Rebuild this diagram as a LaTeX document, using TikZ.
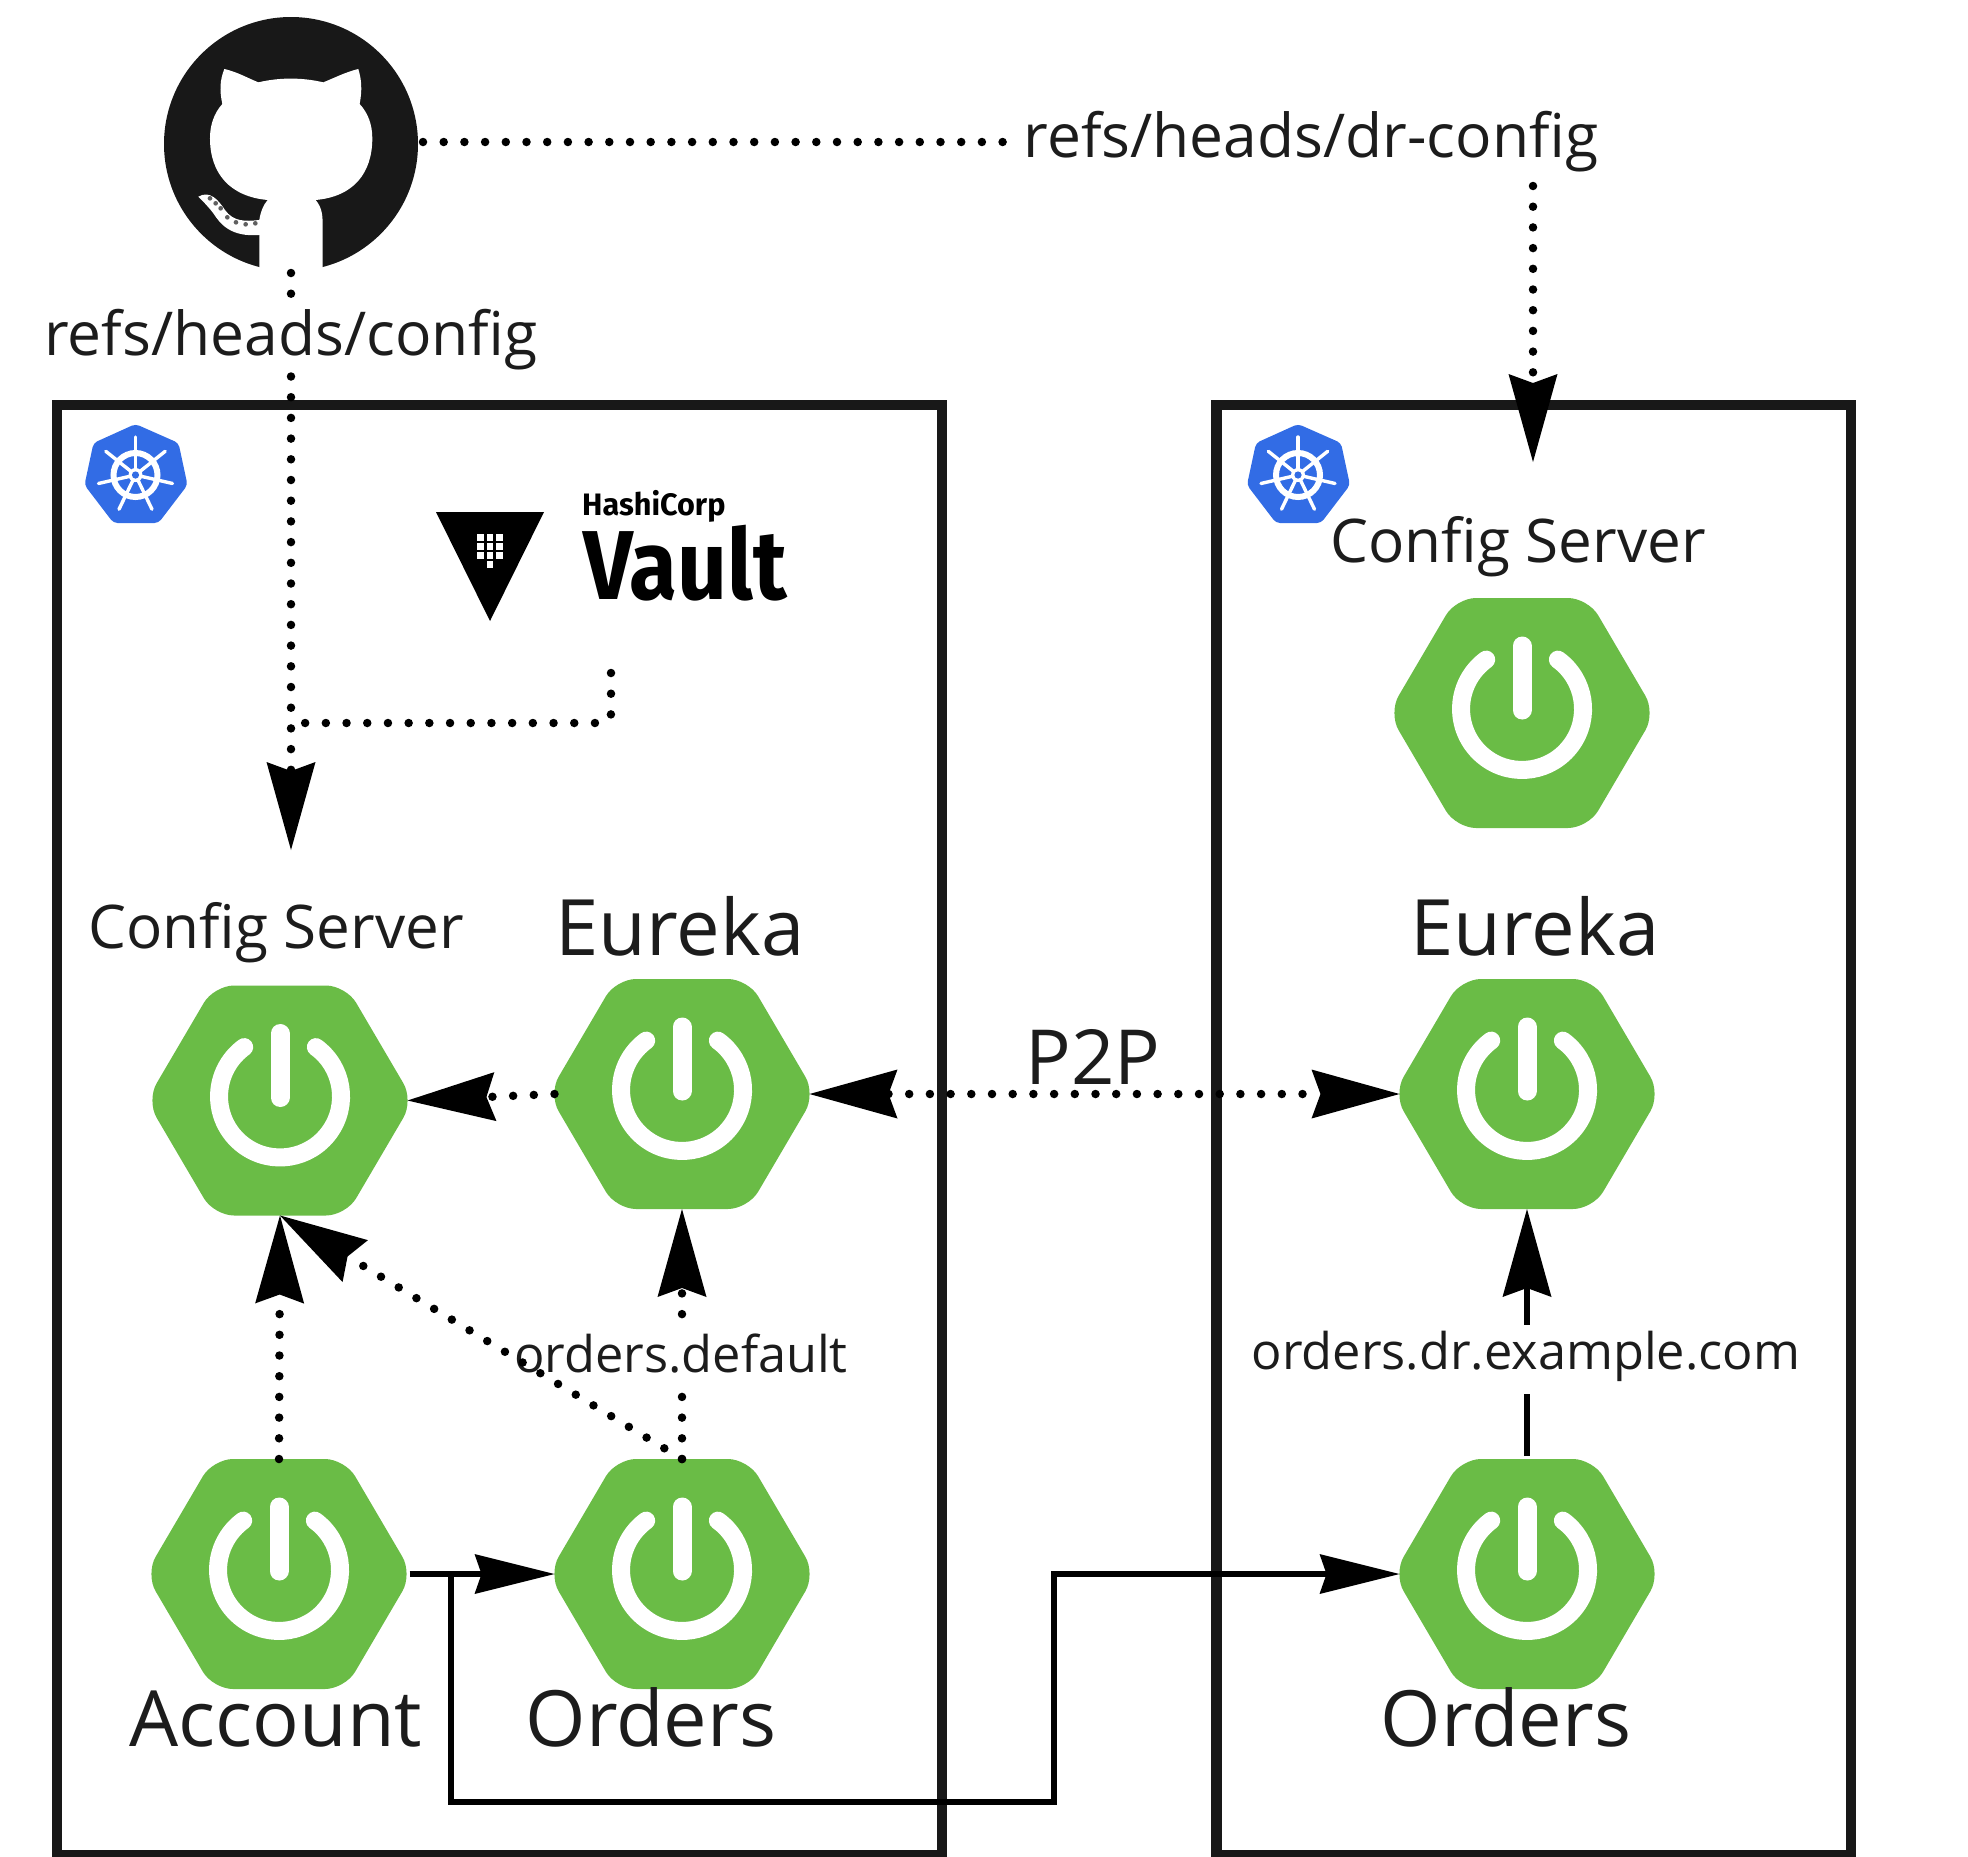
\documentclass[tikz,border=0pt]{standalone}
\usepackage{fontspec}
\setmainfont{Open Sans}
\newfontfamily\vaultfont{Fira Sans}
\usetikzlibrary{arrows.meta,calc}
\definecolor{sprgreen}{HTML}{6ABC46}
\definecolor{kubeblue}{HTML}{326CE5}
\definecolor{inkline}{HTML}{181818}
\definecolor{inktext}{HTML}{1C1C1C}
\tikzset{
  frame/.style={draw=inkline,line width=10.5pt},
  hexbox/.style={rectangle,minimum width=255pt,minimum height=230pt,inner sep=0pt,outer sep=0pt},
  dotline/.style={line width=8.5pt,line cap=round,dash pattern=on 0pt off 20.7pt,black},
  solidline/.style={line width=5.5pt,black},
  bigtip/.style={-{Stealth[length=88pt,width=49pt,inset=9pt,line width=0pt]}},
  bothtip/.style={{Stealth[length=88pt,width=49pt,inset=9pt,line width=0pt]}-{Stealth[length=88pt,width=49pt,inset=9pt,line width=0pt]}},
  midtip/.style={-{Stealth[length=80pt,width=40pt,inset=7pt,line width=0pt]}},
  lab/.style={anchor=base,inner sep=0pt,text=inktext},
  whitelab/.style={lab,fill=white},
}
\newcommand{\lsize}[1]{\fontsize{#1}{#1}\selectfont}
\newcommand{\springicon}[3]{%
  \node[hexbox] (#1) at (#2,#3) {};
  \begin{scope}[shift={(#2,#3)}]
    \fill[sprgreen,rounded corners=20pt] (-133.5,0)--(-66,-115)--(66,-115)--(133.5,0)--(66,115)--(-66,115)--cycle;
    \draw[white,line width=18pt,line cap=round] (35.9,-53.4) arc[start angle=54,end angle=-234,radius=61pt];
    \draw[white,line width=19pt,line cap=round] (0,-67)--(0,-3);
  \end{scope}}
\newcommand{\kubeicon}[3]{%
  \node[inner sep=0pt,outer sep=0pt,minimum width=102pt,minimum height=99pt] (#1) at (#2,#3) {};
  \begin{scope}[shift={(#2,#3)}]
    \fill[kubeblue,rounded corners=4pt] (0,-51)--(43,-32)--(52,10)--(23,48)--(-22,48)--(-51,10)--(-42,-32)--cycle;
    \draw[white,line width=6pt] (0,0) circle[radius=22pt];
    \foreach \a in {90,38.6,-12.9,-64.3,-115.7,-167.1,141.4}{
      \draw[white,line width=3.4pt,line cap=round] (0,0) -- (\a:38pt);
    }
    \fill[white] (0,0) circle[radius=7pt];
    \fill[kubeblue] (0,0) circle[radius=3.6pt];
  \end{scope}}
\begin{document}
\begin{tikzpicture}[x=1pt,y=-1pt]
\useasboundingbox (0,0) rectangle (1968,1856);
% cluster frames
\node[frame,minimum width=885pt,minimum height=1450pt,inner sep=0pt,outer sep=0pt,anchor=north west] (left) at (57,405) {};
\node[frame,minimum width=634.5pt,minimum height=1450pt,inner sep=0pt,outer sep=0pt,anchor=north west] (right) at (1216.5,405) {};
% github mark
\node[circle,fill=inkline,minimum size=254pt,inner sep=0pt,outer sep=0pt] (gh) at (291,144) {};
\begin{scope}[shift={(130,0)},x=0.3333pt,y=-0.3333pt]
  \fill[white] (283,207) .. controls (320,215) and (355,235) .. (385,247)
    .. controls (450,232) and (515,232) .. (580,247)
    .. controls (610,235) and (650,215) .. (685,207)
    .. controls (695,240) and (697,270) .. (689,312)
    .. controls (715,340) and (727,375) .. (727,415)
    .. controls (727,520) and (670,590) .. (557,600)
    .. controls (578,625) and (578,650) .. (578,680)
    -- (578,790) -- (578,830) -- (388,830) -- (388,705)
    .. controls (300,712) and (270,670) .. (250,640)
    .. controls (235,620) and (220,605) .. (205,590)
    .. controls (240,570) and (265,600) .. (285,630)
    .. controls (310,665) and (345,665) .. (388,660)
    .. controls (392,635) and (400,615) .. (413,600)
    .. controls (300,590) and (240,520) .. (240,415)
    .. controls (240,375) and (252,340) .. (277,312)
    .. controls (268,270) and (270,240) .. (283,207) -- cycle;
  \foreach \px/\py in {240/595,257/610,272/625,292/652,318/667,347/673,376/670}{
    \fill[gray!75!black] (\px,\py) circle[radius=7];
  }
\end{scope}
\kubeicon{kubeleft}{135.5}{475}
\kubeicon{kuberight}{1298}{475}
% vault logo
\fill[black] (436,512)--(544,512)--(490,621)--cycle;
\node[inner sep=0pt,minimum width=108pt,minimum height=109pt] (vaultmark) at (490,566) {};
\foreach \vx in {480.5,490,499.5}{\foreach \vy in {537.5,546.5,555.5}{\fill[white] (\vx-3.2,\vy-3.2) rectangle (\vx+3.2,\vy+3.2);}}
\fill[white] (486.8,561) rectangle (493.2,568);
\node[anchor=base west,inner sep=0pt] (hashi) at (582,515) {\scalebox{0.987}[1]{\vaultfont\bfseries\lsize{31}HashiCorp}};
\node[anchor=base west,inner sep=0pt] (vaulttxt) at (583,599) {\scalebox{0.89}[1]{\vaultfont\bfseries\lsize{98}Vault}};
% spring icons
\springicon{csl}{280}{1100.5}
\springicon{eul}{682}{1094}
\springicon{acc}{279}{1574}
\springicon{orl}{682}{1574}
\springicon{csr}{1522}{713}
\springicon{eur}{1527}{1094}
\springicon{orr}{1527}{1574}
% free ends
\coordinate (ghbottom) at ($(gh.south)+(0,2)$);
\coordinate (csltop) at (291,850);
\coordinate (ghdot) at ($(gh.east)+(5,-2)$);
\coordinate (drfrom) at (1533,186);
\coordinate (drto) at (1533,462);
\coordinate (vaultfrom) at (611,673);
\coordinate (vaultjoin) at (291,723);
\coordinate (vaultcorner) at (611,723);
\coordinate (branch) at (451,1574);
\coordinate (lowa) at (451,1802);
\coordinate (lowb) at (1054,1802);
\coordinate (lowc) at (1054,1574);
% labels that interrupt connectors go above their lines
\draw[dotline] (ghdot) -- (1008,142);
\draw[dotline,bigtip] (drfrom) -- (drto);
\draw[dotline,bigtip] (ghbottom) -- (csltop);
\draw[dotline,rounded corners=9pt] (vaultfrom) -- (vaultcorner) -- (vaultjoin);
\draw[dotline,bigtip] (eul.west) -- (csl.east);
\draw[dotline,bothtip] (eul.east) -- (eur.west);
\draw[dotline,bigtip] (acc.north) -- (csl.south);
\draw[dotline,bigtip] (orl.north) -- (eul.south);
\draw[solidline,bigtip,shorten <=3pt] (orr.north) -- (eur.south);
\draw[solidline,midtip,shorten <=3pt] (acc.east) -- (orl.west);
\draw[solidline,midtip,line join=miter] (branch) -- (lowa) -- (lowb) -- (lowc) -- (orr.west);
% labels
\node[lab] (drlabel) at (1311,157.5) {\lsize{60.5}refs/heads/dr-config};
\node[whitelab,text height=58pt,text depth=15pt] (cfglabel) at (291,355.5) {\lsize{60.5}refs/heads/config};
\node[lab] (csllabel) at (276,948.5) {\lsize{60.2}Config Server};
\node[lab] (csrlabel) at (1518,562) {\lsize{60.2}Config Server};
\node[lab] (eullabel) at (680,955) {\lsize{77.8}Eureka};
\node[lab] (eurlabel) at (1535,955) {\lsize{77.8}Eureka};
\node[lab] (acclabel) at (276,1746) {\lsize{77.6}Account};
\node[lab] (orllabel) at (651,1746) {\lsize{77.6}Orders};
\node[lab] (orrlabel) at (1506,1746) {\lsize{77.6}Orders};
\node[lab] (p2plabel) at (1093,1084) {\lsize{76}P2P};
\node[whitelab,text height=45pt,text depth=20pt] (defaultlabel) at (681,1372) {\lsize{50.5}orders.default};
\node[whitelab,text height=44pt,text depth=25pt] (drdefault) at (1526,1369) {\lsize{50.5}orders.dr.example.com};
% diagonal runs over the label
\draw[dotline,bigtip] (orl.north) -- (csl.south);
\end{tikzpicture}
\end{document}
